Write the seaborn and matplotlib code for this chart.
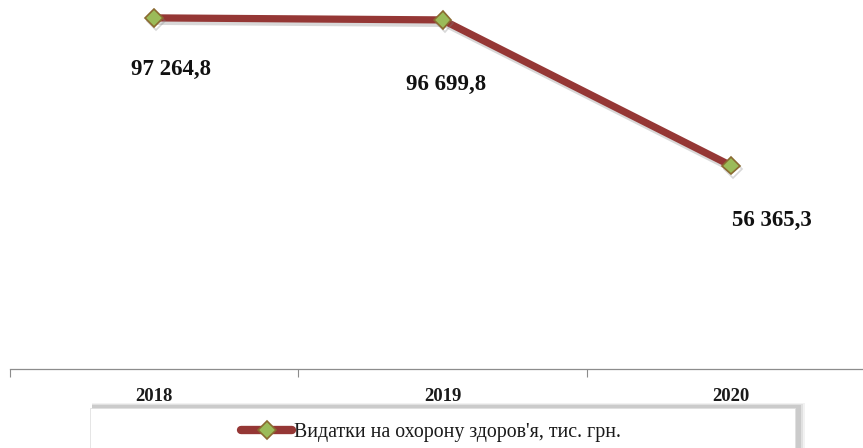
import matplotlib
matplotlib.use("Agg")
import matplotlib.pyplot as plt
import matplotlib.patheffects as pe
from matplotlib.patches import Rectangle
from matplotlib.lines import Line2D
import seaborn as sns
import pandas as pd

years = ["2018", "2019", "2020"]
values = [97264.8, 96699.8, 56365.3]
value_labels = ["97 264,8", "96 699,8", "56 365,3"]
series_name = "Видатки на охорону здоров'я, тис. грн."

sns.set_theme(style="white")
plt.rcParams['font.family'] = ['Liberation Serif', 'DejaVu Serif']

df = pd.DataFrame({"x": list(range(len(years))), "y": values, "s": series_name})

fig = plt.figure(figsize=(8.63, 4.48), dpi=100)
W, H = 863, 448
ax = fig.add_axes([10 / W, 1 - 369 / H, 865 / W, (369 - 8) / H])

line_color = "#953735"
sns.lineplot(data=df, x="x", y="y", hue="s", palette=[line_color], ax=ax,
             linewidth=5.2, marker="D", markersize=9,
             markerfacecolor="#9BBB59", markeredgecolor="#8A6A30",
             markeredgewidth=1.2, legend=False)
for ln in ax.lines:
    ln.set_path_effects([pe.SimpleLineShadow(offset=(1.5, -2.5), shadow_color="#808080", alpha=0.3),
                         pe.Normal()])
    ln.set_solid_capstyle("butt")

ax.set_xlim(-0.5, 2.5)
ax.set_ylim(0, 100000)
ax.set_xlabel("")
ax.set_ylabel("")
ax.set_yticks([])
ax.set_xticks(range(len(years)))
ax.set_xticklabels(years, fontsize=13.5, fontweight="bold", color="#1a1a1a")
ax.tick_params(axis="x", which="major", bottom=False, length=0, pad=14)
ax.set_xticks([-0.5, 0.5, 1.5, 2.5], minor=True)
ax.tick_params(axis="x", which="minor", bottom=True, length=6, width=0.8,
               color="#8c8c8c", direction="out")
for s in ["top", "right", "left"]:
    ax.spines[s].set_visible(False)
ax.spines["bottom"].set_color("#8c8c8c")
ax.spines["bottom"].set_linewidth(0.9)
ax.patch.set_alpha(0)

offsets = [(17, -52), (4, -65), (41, -55)]
for i, (v, lab) in enumerate(zip(values, value_labels)):
    ax.annotate(lab, (i, v), xytext=offsets[i], textcoords="offset pixels",
                ha="center", va="center", fontsize=16.5, fontweight="bold", color="#111111")

# legend frame with soft shadow (top and right)
for k, a in enumerate([0.10, 0.15, 0.22]):
    d = 3 - k
    sh = Rectangle(((90 + 2) / W, -0.05), (795 - 90 + 2 + 2 * d) / W, (448 - 406 + d) / H + 0.05,
                   transform=fig.transFigure, facecolor="#808080", edgecolor="none",
                   alpha=a, zorder=0)
    fig.patches.append(sh)
box = Rectangle((90 / W, -0.05), (795 - 90) / W, (448 - 408) / H + 0.05,
                transform=fig.transFigure, facecolor="white", edgecolor="#e0e0e0",
                linewidth=0.6, zorder=1)
fig.patches.append(box)

handle = Line2D([], [], color=line_color, linewidth=6, marker="D", markersize=9,
                markerfacecolor="#9BBB59", markeredgecolor="#8A6A30", markeredgewidth=1.2,
                solid_capstyle="round")
leg = fig.legend([handle], [series_name], loc="center", bbox_to_anchor=(431 / W, 1 - 432 / H),
                 frameon=False, fontsize=14.3, handlelength=2.6, handletextpad=0.1,
                 borderaxespad=0)
for t in leg.get_texts():
    t.set_color("#1a1a1a")

fig.savefig("out.png", dpi=100)
